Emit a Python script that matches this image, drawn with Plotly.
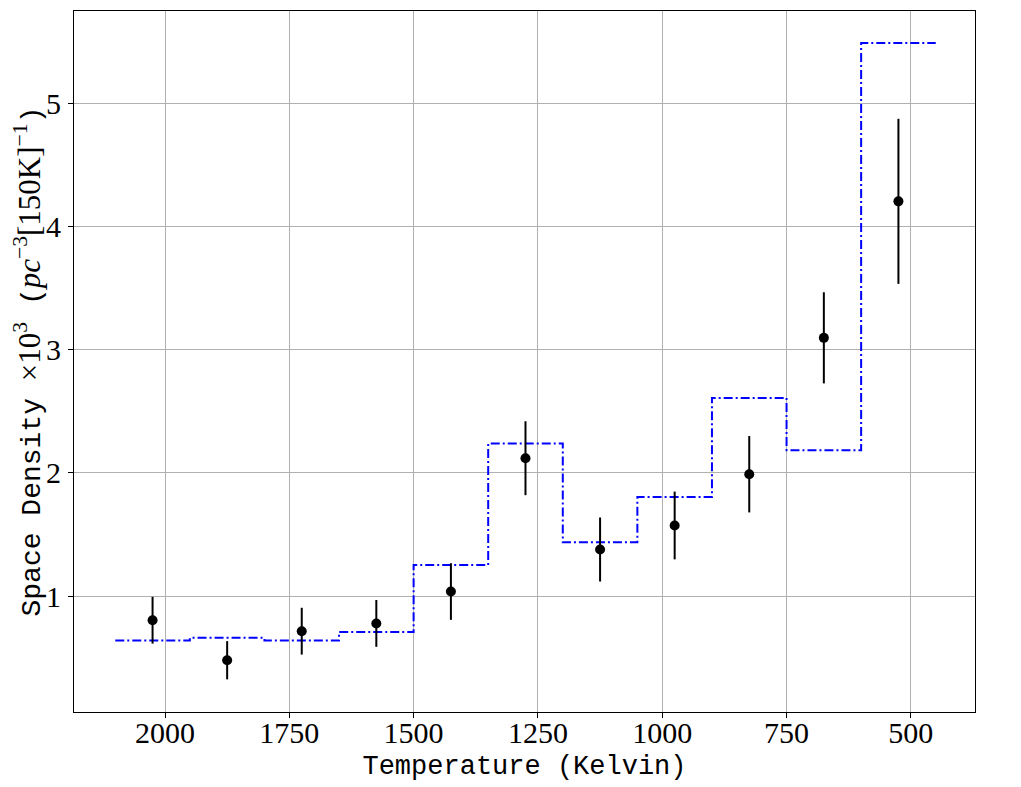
import plotly.graph_objects as go

bin_edges = [2100, 1950, 1800, 1650, 1500, 1350, 1200, 1050, 900, 750, 600, 450]
model_density = [0.64, 0.662, 0.64, 0.71, 1.254, 2.24, 1.438, 1.806, 2.609, 2.185, 5.49]

point_temp = [2025, 1875, 1725, 1575, 1425, 1275, 1125, 975, 825, 675, 525]
point_density = [0.805, 0.48, 0.716, 0.779, 1.038, 2.12, 1.379, 1.574, 1.99, 3.097, 4.205]
point_err = [0.19, 0.155, 0.19, 0.19, 0.23, 0.30, 0.26, 0.275, 0.31, 0.37, 0.67]

x_ticks = [2000, 1750, 1500, 1250, 1000, 750, 500]
y_ticks = [1, 2, 3, 4, 5]

serif = "Liberation Serif, DejaVu Serif, serif"
mono = "Liberation Mono, DejaVu Sans Mono, monospace"

fig = go.Figure()
fig.add_trace(go.Scatter(
    x=bin_edges, y=model_density + [model_density[-1]],
    mode="lines", line=dict(shape="hv", color="blue", width=2, dash="9px,3px,2px,3px"),
    showlegend=False, hoverinfo="skip"))
fig.add_trace(go.Scatter(
    x=point_temp, y=point_density, mode="markers",
    marker=dict(color="black", size=10),
    error_y=dict(type="data", array=point_err, color="black", thickness=2, width=0),
    showlegend=False))

axis_common = dict(
    showline=True, linecolor="black", linewidth=1, mirror=True,
    showgrid=True, gridcolor="#b0b0b0", gridwidth=1,
    ticks="outside", ticklen=5, tickcolor="black", tickwidth=1,
    tickfont=dict(family=serif, size=30, color="black"),
    zeroline=False, automargin=False)

sty = "font-family:Liberation Serif;font-size:31px"
ytitle = (f"Space Density <span style='{sty}'>×10<sup>3</sup></span> "
          f"(<span style='{sty}'><i>pc</i><sup>−3</sup>[150K]<sup>−1</sup></span>)")

fig.update_layout(
    width=1021, height=787,
    margin=dict(l=66, r=54, t=3, b=83),
    plot_bgcolor="white", paper_bgcolor="white",
    xaxis=dict(range=[2183, 371], tickvals=x_ticks, ticklabelstandoff=-11,
               title=dict(text="Temperature (Kelvin)", font=dict(family=mono, size=27, color="black"), standoff=7),
               **axis_common),
    yaxis=dict(range=[0.06, 5.75], tickvals=y_ticks, ticklabelstandoff=1,
               title=dict(text=ytitle, font=dict(family=mono, size=28, color="black"), standoff=20),
               **axis_common),
)

fig.write_html("out.html")
